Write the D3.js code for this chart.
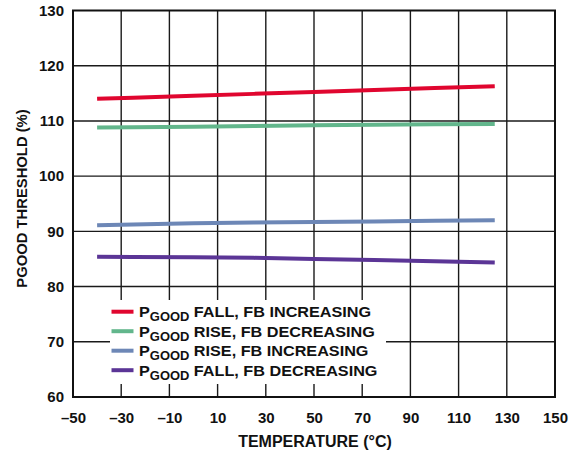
<!DOCTYPE html>
<html>
<head>
<meta charset="utf-8">
<script src="https://cdn.jsdelivr.net/npm/d3@7"></script>
<style>
  html, body { margin: 0; padding: 0; background: #fff; }
  svg { display: block; font-family: "Liberation Sans", Arial, sans-serif; }
</style>
</head>
<body>
<svg id="chart" width="571" height="457"></svg>
<script>
// Temperature sweep (°C)
const temps = [-40, -25, 0, 25, 50, 75, 100, 125];

// PGOOD thresholds (%) for each condition
const fallFbIncreasing = [114.0, 114.2, 114.55, 114.9, 115.25, 115.6, 115.95, 116.3];
const riseFbDecreasing = [108.8, 108.85, 108.95, 109.1, 109.2, 109.3, 109.4, 109.45];
const riseFbIncreasing = [91.1, 91.25, 91.45, 91.6, 91.7, 91.8, 91.9, 92.0];
const fallFbDecreasing = [85.4, 85.35, 85.3, 85.2, 85.0, 84.8, 84.6, 84.35];

const xTicks = [-50, -30, -10, 10, 30, 50, 70, 90, 110, 130, 150];
const yTicks = [60, 70, 80, 90, 100, 110, 120, 130];

const series = [
  { pre: "FALL, FB INCREASING", values: fallFbIncreasing, color: "#e0062f" },
  { pre: "RISE, FB DECREASING", values: riseFbDecreasing, color: "#62b68c" },
  { pre: "RISE, FB INCREASING", values: riseFbIncreasing, color: "#6d87b6" },
  { pre: "FALL, FB DECREASING", values: fallFbDecreasing, color: "#5b3596" }
];

const svg = d3.select("#chart");
const plot = { left: 73, right: 555, top: 10.5, bottom: 397 };

const x = d3.scaleLinear().domain([-50, 150]).range([plot.left, plot.right]);
const y = d3.scaleLinear().domain([60, 130]).range([plot.bottom, plot.top]);

// Grid
const grid = svg.append("g");
grid.selectAll("line.v")
  .data(xTicks.slice(1, -1))
  .join("line")
  .attr("x1", d => x(d)).attr("x2", d => x(d))
  .attr("y1", plot.top).attr("y2", plot.bottom)
  .attr("stroke", "#1a1a1a").attr("stroke-width", 1.4);
grid.selectAll("line.h")
  .data(yTicks.slice(1, -1))
  .join("line")
  .attr("x1", plot.left).attr("x2", plot.right)
  .attr("y1", d => y(d)).attr("y2", d => y(d))
  .attr("stroke", "#1a1a1a").attr("stroke-width", 1.4);

// Data lines
const line = d3.line().x((d, i) => x(temps[i])).y(d => y(d));
svg.append("g").selectAll("path")
  .data(series)
  .join("path")
  .attr("d", d => line(d.values))
  .attr("fill", "none")
  .attr("stroke", d => d.color)
  .attr("stroke-width", 4);

// Legend
const legend = svg.append("g");
legend.append("rect")
  .attr("x", 110).attr("y", 300).attr("width", 276).attr("height", 84)
  .attr("fill", "#fff");
const rows = legend.selectAll("g.row")
  .data(series)
  .join("g")
  .attr("transform", (d, i) => `translate(0, ${311.7 + i * 19.5})`);
rows.append("line")
  .attr("x1", 111.5).attr("x2", 133.5)
  .attr("y1", 0).attr("y2", 0)
  .attr("stroke", d => d.color).attr("stroke-width", 4);
const txt = rows.append("text")
  .attr("transform", "translate(139, 5.5) scale(1.08, 1)")
  .attr("font-size", 15).attr("font-weight", "bold").attr("fill", "#111");
txt.append("tspan").text("P");
txt.append("tspan").attr("font-size", 12).attr("dy", 4).text("GOOD");
txt.append("tspan").attr("dy", -4).text(d => " " + d.pre);

// Plot frame
svg.append("rect")
  .attr("x", plot.left).attr("y", plot.top)
  .attr("width", plot.right - plot.left).attr("height", plot.bottom - plot.top)
  .attr("fill", "none").attr("stroke", "#111").attr("stroke-width", 2);

// Axes
const xAxis = svg.append("g")
  .attr("transform", `translate(0, ${plot.bottom})`)
  .call(d3.axisBottom(x).tickValues(xTicks).tickSize(0).tickPadding(15)
    .tickFormat(d => d < 0 ? "\u2013" + Math.abs(d) : d));
xAxis.select(".domain").remove();
xAxis.selectAll("text").attr("font-size", 15).attr("font-weight", "bold")
  .attr("fill", "#111").attr("font-family", "Liberation Sans, Arial, sans-serif");

const yAxis = svg.append("g")
  .attr("transform", `translate(${plot.left}, 0)`)
  .call(d3.axisLeft(y).tickValues(yTicks).tickSize(0).tickPadding(9));
yAxis.select(".domain").remove();
yAxis.selectAll("text").attr("font-size", 15).attr("font-weight", "bold")
  .attr("fill", "#111").attr("font-family", "Liberation Sans, Arial, sans-serif");

// Axis titles
svg.append("text")
  .attr("x", (plot.left + plot.right) / 2 + 1).attr("y", 446.5)
  .attr("text-anchor", "middle")
  .attr("font-size", 16).attr("font-weight", "bold").attr("fill", "#111")
  .text("TEMPERATURE (°C)");

svg.append("text")
  .attr("transform", "translate(27, 198.5) rotate(-90)")
  .attr("text-anchor", "middle")
  .attr("font-size", 14.8).attr("font-weight", "bold").attr("fill", "#111")
  .text("PGOOD THRESHOLD (%)");
</script>
</body>
</html>
